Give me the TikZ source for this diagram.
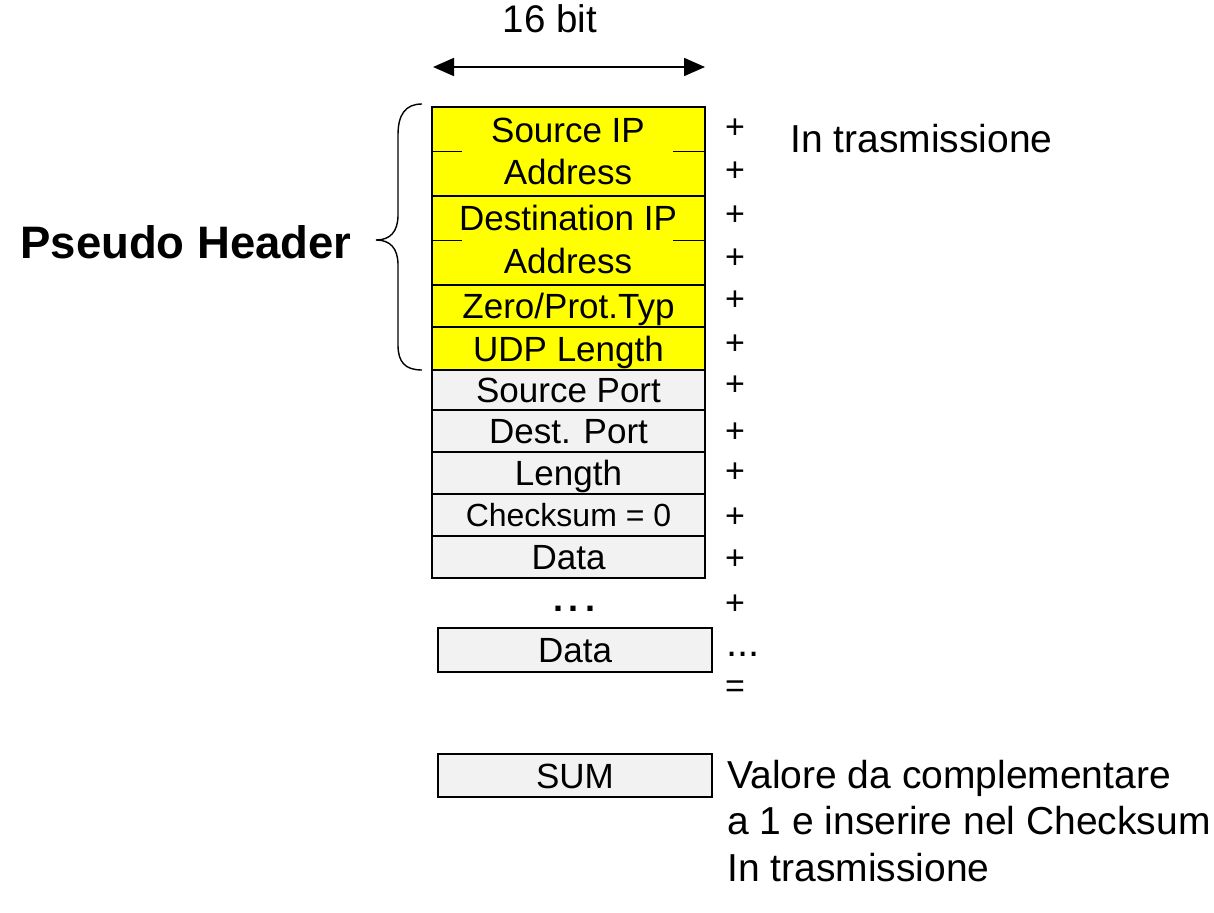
\documentclass[tikz,border=0pt]{standalone}
\usepackage{fontspec}
\setmainfont{Liberation Sans}
\usetikzlibrary{arrows.meta}
\definecolor{hdryellow}{HTML}{FFFF00}
\definecolor{boxgray}{HTML}{F2F2F2}
\tikzset{
  fieldbox/.style={draw=black, line width=1.6pt, inner sep=0pt, minimum width=273pt,
     font=\fontsize{35}{42}\selectfont, text height=25pt, text depth=0pt},
  ybox/.style={fieldbox, fill=hdryellow},
  gbox/.style={fieldbox, fill=boxgray},
  ftxt/.style={inner sep=0pt, font=\fontsize{35}{42}\selectfont, anchor=base},
  op/.style={inner sep=0pt, font=\fontsize{34}{40}\selectfont, anchor=base},
  note/.style={inner sep=0pt, font=\fontsize{39}{46.5}\selectfont, anchor=base west, align=left},
}
\begin{document}
\begin{tikzpicture}[x=1pt,y=-1pt]
\useasboundingbox[fill=white] (0,0) rectangle (1214,912);

% width arrow
\node[inner sep=0pt, font=\fontsize{38.5}{40}\selectfont, anchor=base] (bits) at (550,33) {16 bit};
\coordinate (al) at (433,67);
\coordinate (ar) at (705,67);
\draw[line width=1.8pt, {Triangle[length=21pt,width=18pt]}-{Triangle[length=21pt,width=18pt]}] (al) -- (ar);

% pseudo header boxes
\node[ybox, minimum height=89pt] (sip) at (568.5,151.5) {};
\node[ftxt] (sip1) at (568,143) {Source IP};
\node[ftxt] (sip2) at (568,185) {Address};
\draw[line width=1.4pt] (sip.west) -- ++(31,0);
\draw[line width=1.4pt] (sip.east) -- ++(-33,0);

\node[ybox, minimum height=89pt] (dip) at (568.5,240.5) {};
\node[ftxt] (dip1) at (568,230) {Destination IP};
\node[ftxt] (dip2) at (568,273) {Address};
\draw[line width=1.4pt] (dip.west) -- ++(31,0);
\draw[line width=1.4pt] (dip.east) -- ++(-33,0);

\node[ybox, minimum height=42pt] (zero) at (568.5,306) {Zero/Prot.Typ};
\node[ybox, minimum height=43pt] (udpl) at (568.5,348.5) {UDP Length};

% UDP header boxes
\node[gbox, minimum height=40pt] (sport) at (568.5,390) {Source Port};
\node[gbox, minimum height=42pt] (dport) at (568.5,431) {Dest. Port};
\node[gbox, minimum height=42pt] (len) at (568.5,473) {Length};
\node[gbox, minimum height=42pt, font=\fontsize{32}{40}\selectfont, text height=23pt] (csum) at (568.5,515) {Checksum = 0};
\node[gbox, minimum height=42pt] (data1) at (568.5,557) {Data};

\node[inner sep=0pt, font=\bfseries\fontsize{36}{40}\selectfont, anchor=base] (vdots) at (574,611) {.\,.\,.};

\node[gbox, minimum width=274pt, minimum height=44pt] (data2) at (575,650) {Data};
\node[gbox, minimum width=274pt, minimum height=43pt] (sum) at (575,775.5) {SUM};

% operators
\foreach \i/\y in {1/127,2/170,3/213,4/256,5/298,6/342,7/383,8/430,9/470,10/515,11/557,12/602}{
  \node[op] (plus\i) at (735,\y+12) {+};
}
\node[inner sep=0pt, font=\fontsize{40}{40}\selectfont, anchor=base] (hdots) at (743,656) {...};
\node[op] (eq) at (735,697) {=};

% brace
\coordinate (bt) at (422,104);
\coordinate (bp) at (376,240);
\coordinate (bb) at (422,370);
\draw[line width=1.4pt] (bt) .. controls (405,104) and (398,115) .. (398,135) -- (398,215)
  .. controls (398,232) and (390,240) .. (bp)
  .. controls (390,240) and (398,248) .. (398,265) -- (398,345)
  .. controls (398,362) and (405,370) .. (bb);

% labels
\node[inner sep=0pt, font=\bfseries\fontsize{45.5}{50}\selectfont, anchor=base] (pseudo) at (186,258) {Pseudo Header};
\node[note] (tx1) at (790,153) {In trasmissione};
\node[note] (tx2) at (727,881) {Valore da complementare\\a 1 e inserire nel Checksum\\In trasmissione};
\end{tikzpicture}
\end{document}
